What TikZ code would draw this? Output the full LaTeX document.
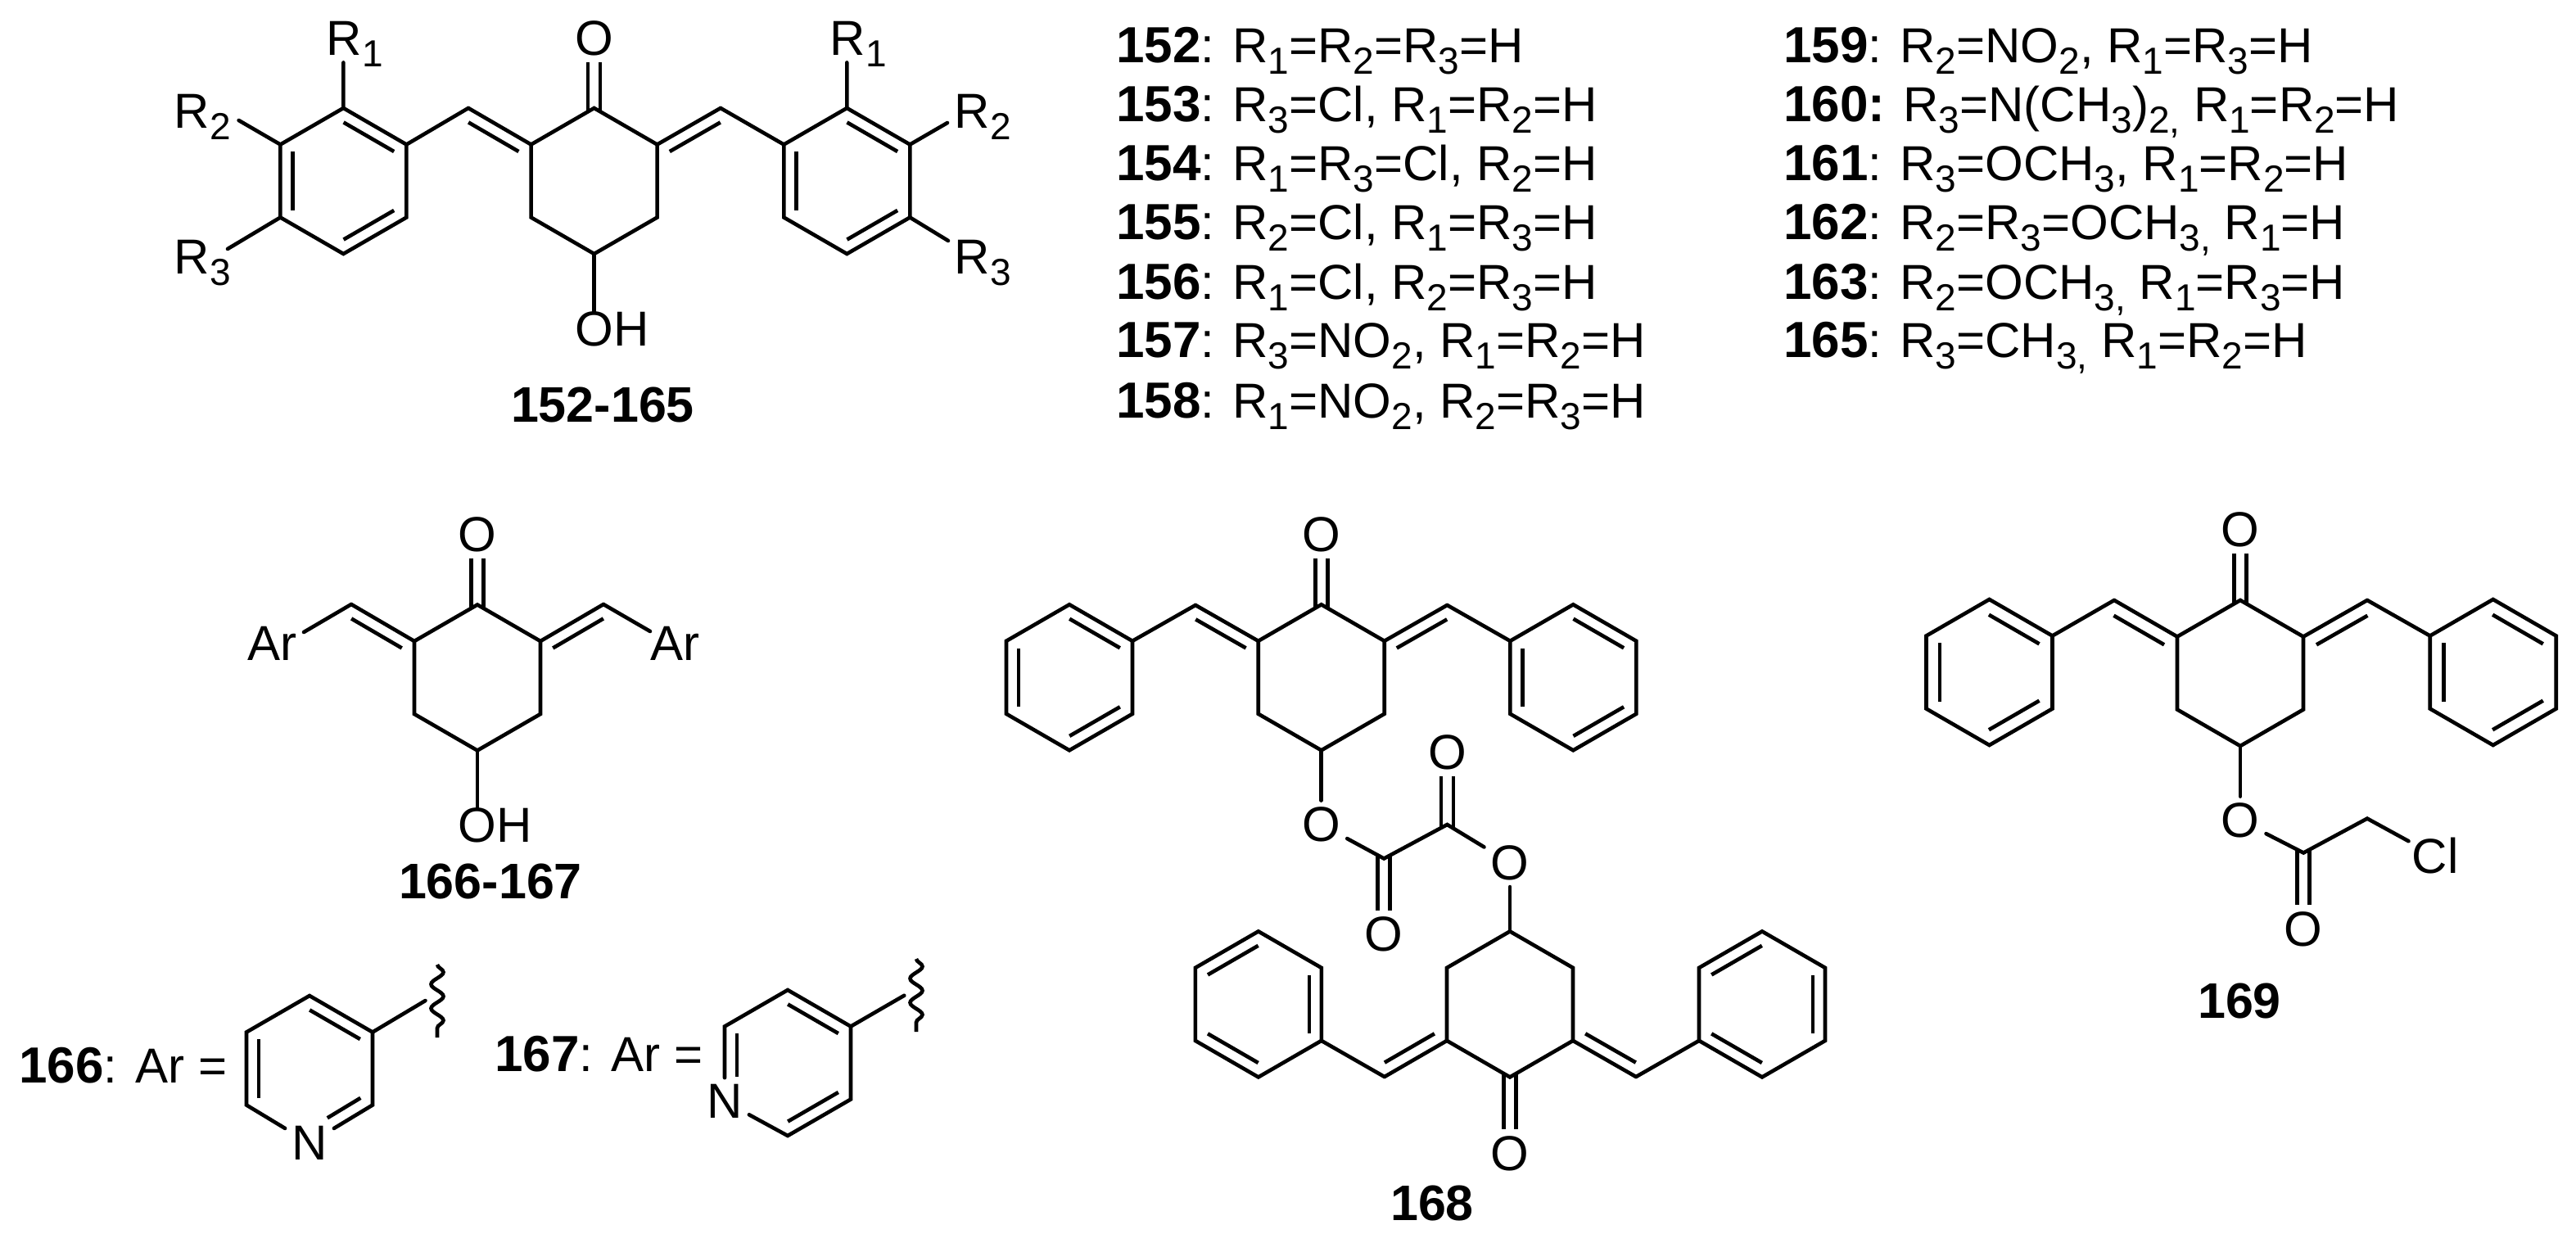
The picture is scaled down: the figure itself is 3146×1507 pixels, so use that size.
\documentclass[tikz,border=0pt]{standalone}
\usepackage{fontspec}
\setmainfont{Liberation Sans}
\usetikzlibrary{calc,decorations.pathmorphing}
\newcommand\lowsub[1]{\raisebox{-14pt}{\fontsize{46}{46}\selectfont #1}}
\newcommand\Rone{R\lowsub{1}}
\newcommand\Rtwo{R\lowsub{2}}
\newcommand\Rthree{R\lowsub{3}}
\newcommand\bnum[1]{{\fontsize{62}{72}\selectfont\bfseries #1}}
\def\bo{15pt}
% ring atoms, clockwise from the top
\newcommand\ringat[3]{%
  \coordinate (#11) at (#2,#3-89);
  \coordinate (#12) at (#2+77,#3-44.5);
  \coordinate (#13) at (#2+77,#3+44.5);
  \coordinate (#14) at (#2,#3+89);
  \coordinate (#15) at (#2-77,#3+44.5);
  \coordinate (#16) at (#2-77,#3-44.5);}
\newcommand\ringdraw[1]{\draw[bond] (#11)--(#12)--(#13)--(#14)--(#15)--(#16)--cycle;}
% inner line of a double bond, on the right of the direction a->b
\newcommand\inb[4]{\draw[ibond] ($(#1)!#3!(#2)!\bo!-90:(#2)$) -- ($(#2)!#4!(#1)!\bo!90:(#1)$);}
\newcommand\inr[2]{\inb{#1}{#2}{.1}{.1}}
\newcommand\dl[2]{\draw[bond] (#1)--(#2); \inr{#1}{#2}}
\newcommand\kekA[1]{\inr{#11}{#12}\inr{#13}{#14}\inr{#15}{#16}}
\newcommand\kekB[1]{\inr{#16}{#11}\inr{#14}{#15}\inr{#12}{#13}}
% vertical C=O, oxygen above or below
\newcommand\coup[2]{\draw[ibond] ([xshift=-7.5pt,yshift=-4.3pt]#1)--([xshift=-7.5pt]#2.south);
  \draw[ibond] ([xshift=7.5pt,yshift=-4.3pt]#1)--([xshift=7.5pt]#2.south);}
\newcommand\codown[2]{\draw[ibond] ([xshift=-7.5pt,yshift=4.3pt]#1)--([xshift=-7.5pt]#2.north);
  \draw[ibond] ([xshift=7.5pt,yshift=4.3pt]#1)--([xshift=7.5pt]#2.north);}
\tikzset{
  bond/.style={line width=4.6pt,line join=miter,line cap=round},
  ibond/.style={line width=4.6pt,line cap=butt},
  wavy/.style={line width=4.6pt,decorate,decoration={snake,segment length=29.5pt,amplitude=7.5pt}},
  atom/.style={inner sep=8pt,font=\fontsize{60}{72}\selectfont},
  txt/.style={inner sep=0pt,anchor=base west,font=\fontsize{60}{72}\selectfont},
  lab/.style={inner sep=0pt,anchor=base,font=\fontsize{61}{72}\selectfont\bfseries},
}
\begin{document}
\begin{tikzpicture}[x=1pt,y=-1pt]
\useasboundingbox (0,0) rectangle (3146,1507);

% ---------- 152-165 ----------
\ringat{a}{419.4}{221}\ringat{c}{725.6}{221}\ringat{b}{1034.3}{221}
\coordinate (av) at (572,132);\coordinate (bv) at (880,132);
\ringdraw{a}\ringdraw{c}\ringdraw{b}
\kekA{a}\kekA{b}
\draw[bond] (a2)--(av);\dl{av}{c6}
\draw[bond] (b6)--(bv);\dl{c2}{bv}
\node[atom] (aO) at (725.6,46.5) {O};
\coup{c1}{aO}
\node[txt] (aOH) at (702.3,422.5) {OH};
\draw[bond] (c4)--(c4 |- aOH.north);
\node[txt] (aR1) at (398.5,67) {\Rone};
\node[txt] (aR2) at (212.5,156.7) {\Rtwo};
\node[txt] (aR3) at (212.5,334) {\Rthree};
\node[txt] (bR1) at (1013.5,67) {\Rone};
\node[txt] (bR2) at (1165.5,156.7) {\Rtwo};
\node[txt] (bR3) at (1165.5,334) {\Rthree};
\coordinate (aR1e) at (419.4,76.4);\coordinate (aR2e) at (291.6,147);\coordinate (aR3e) at (278,304);
\coordinate (bR1e) at (1034.3,76.4);\coordinate (bR2e) at (1157,150);\coordinate (bR3e) at (1158,294);
\draw[bond] (a1)--(aR1e) (a6)--(aR2e) (a5)--(aR3e) (b1)--(bR1e) (b2)--(bR2e) (b3)--(bR3e);
\node[lab] (l152) at (736,515) {152-165};

% ---------- substituent lists ----------
\node[txt] (r152) at (1363,76.6) {\bnum{152}: \Rone=\Rtwo=\Rthree=H};
\node[txt] (r153) at (1363,148.7) {\bnum{153}: \Rthree=Cl, \Rone=\Rtwo=H};
\node[txt] (r154) at (1363,220.7) {\bnum{154}: \Rone=\Rthree=Cl, \Rtwo=H};
\node[txt] (r155) at (1363,292.6) {\bnum{155}: \Rtwo=Cl, \Rone=\Rthree=H};
\node[txt] (r156) at (1363,365) {\bnum{156}: \Rone=Cl, \Rtwo=\Rthree=H};
\node[txt] (r157) at (1363,436.3) {\bnum{157}: \Rthree=NO\lowsub{2}, \Rone=\Rtwo=H};
\node[txt] (r158) at (1363,510) {\bnum{158}: \Rone=NO\lowsub{2}, \Rtwo=\Rthree=H};
\node[txt] (r159) at (2178,76.6) {\bnum{159}: \Rtwo=NO\lowsub{2}, \Rone=\Rthree=H};
\node[txt] (r160) at (2178,148.7) {\bnum{160:} \Rthree=N(CH\lowsub{3})\lowsub{2,} \Rone=\Rtwo=H};
\node[txt] (r161) at (2178,220.7) {\bnum{161}: \Rthree=OCH\lowsub{3}, \Rone=\Rtwo=H};
\node[txt] (r162) at (2178,292.6) {\bnum{162}: \Rtwo=\Rthree=OCH\lowsub{3,} \Rone=H};
\node[txt] (r163) at (2178,365) {\bnum{163}: \Rtwo=OCH\lowsub{3,} \Rone=\Rthree=H};
\node[txt] (r165) at (2178,436.3) {\bnum{165}: \Rthree=CH\lowsub{3,} \Rone=\Rtwo=H};

% ---------- 166-167 ----------
\ringat{d}{583}{827.5}
\ringdraw{d}
\coordinate (dvl) at (429,738);\coordinate (dvr) at (737,738);
\dl{dvl}{d6}\dl{d2}{dvr}
\coordinate (dAl) at (371,772);\coordinate (dAr) at (794,771);
\draw[bond] (dvl)--(dAl) (dvr)--(dAr);
\node[atom] (dO) at (583,653) {O};
\coup{d1}{dO}
\node[txt] (dOH) at (559.7,1028.5) {OH};
\draw[bond] (d4)--(d4 |- dOH.north);
\node[txt] (dArl) at (302,806.7) {Ar};
\node[txt] (dArr) at (794,806.7) {Ar};
\node[lab] (l166) at (599,1097) {166-167};

% ---------- 166 Ar ----------
\node[txt] (t166) at (23,1322.7) {\bnum{166}: Ar =};
\ringat{e}{378}{1305}
\node[atom] (eN) at (378,1396) {N};
\draw[bond] (eN)--(e5)--(e6)--(e1)--(e2)--(e3)--(eN);
\inr{e1}{e2}\inr{e5}{e6}
\inb{e3}{eN}{.09}{.384}
\coordinate (ex) at (519.5,1222);
\draw[bond] (e2)--(ex);
\coordinate (ew1) at (534,1178);\coordinate (ew2) at (534,1267);
\draw[wavy] (ew1)--(ew2);

% ---------- 167 Ar ----------
\node[txt] (t167) at (604,1308.3) {\bnum{167}: Ar =};
\ringat{f}{962}{1298}
\node[atom] (fN) at (885,1345) {N};
\draw[bond] (fN)--(f6)--(f1)--(f2)--(f3)--(f4)--(fN);
\inr{f1}{f2}\inr{f3}{f4}
\inb{fN}{f6}{.333}{.09}
\coordinate (fx) at (1104.3,1215.7);
\draw[bond] (f2)--(fx);
\coordinate (fw1) at (1119,1171);\coordinate (fw2) at (1119,1260);
\draw[wavy] (fw1)--(fw2);

% ---------- 168 ----------
\ringat{g}{1613.7}{827.3}\ringat{gl}{1306}{827.3}\ringat{gr}{1921.3}{827.3}
\ringdraw{g}\ringdraw{gl}\ringdraw{gr}
\kekA{gl}\kekA{gr}
\coordinate (gvl) at (1460,739);\coordinate (gvr) at (1767.4,739);
\draw[bond] (gl2)--(gvl) (gr6)--(gvr);
\dl{gvl}{g6}\dl{g2}{gvr}
\node[atom] (gO) at (1613.7,653) {O};
\coup{g1}{gO}
\node[atom] (gE) at (1613.7,1007) {O};
\draw[bond] (g4)--(gE);
\coordinate (ox1) at (1690.2,1048.5);\coordinate (ox2) at (1767.4,1007);
\node[atom] (ox1O) at (1690.2,1141) {O};
\node[atom] (ox2O) at (1767.4,919) {O};
\node[atom] (hE) at (1844,1053.6) {O};
\draw[bond] (gE)--(ox1)--(ox2)--(hE);
\codown{ox1}{ox1O}
\coup{ox2}{ox2O}
\ringat{h}{1844}{1226.4}\ringat{hl}{1536.8}{1226.4}\ringat{hr}{2152}{1226.4}
\ringdraw{h}\ringdraw{hl}\ringdraw{hr}
\kekB{hl}\kekB{hr}
\draw[bond] (hE)--(h1);
\coordinate (hvl) at (1690.8,1315);\coordinate (hvr) at (1998,1315);
\draw[bond] (hl3)--(hvl) (hr5)--(hvr);
\dl{h5}{hvl}\dl{hvr}{h3}
\node[atom] (hO) at (1844,1408.8) {O};
\codown{h4}{hO}
\node[lab] (l168) at (1749,1490) {168};

% ---------- 169 ----------
\def\bo{16.5pt}
\ringat{k}{2736}{822}\ringat{kl}{2429.5}{821}\ringat{kr}{3044.7}{821}
\ringdraw{k}\ringdraw{kl}\ringdraw{kr}
\kekA{kl}\kekA{kr}
\coordinate (kvl) at (2582,733);\coordinate (kvr) at (2891,733);
\draw[bond] (kl2)--(kvl) (kr6)--(kvr);
\dl{kvl}{k6}\dl{k2}{kvr}
\node[atom] (kO) at (2736,646.6) {O};
\coup{k1}{kO}
\node[atom] (kE) at (2736,1002) {O};
\draw[bond] (k4)--(kE);
\coordinate (kC) at (2813.2,1041.5);\coordinate (kM) at (2891,999.6);
\node[atom,inner sep=4pt] (kCl) at (2974,1045) {Cl};
\draw[bond] (kE)--(kC)--(kM)--(kCl);
\node[atom] (kO2) at (2813.2,1134.6) {O};
\codown{kC}{kO2}
\node[lab] (l169) at (2735,1243) {169};
\end{tikzpicture}
\end{document}
